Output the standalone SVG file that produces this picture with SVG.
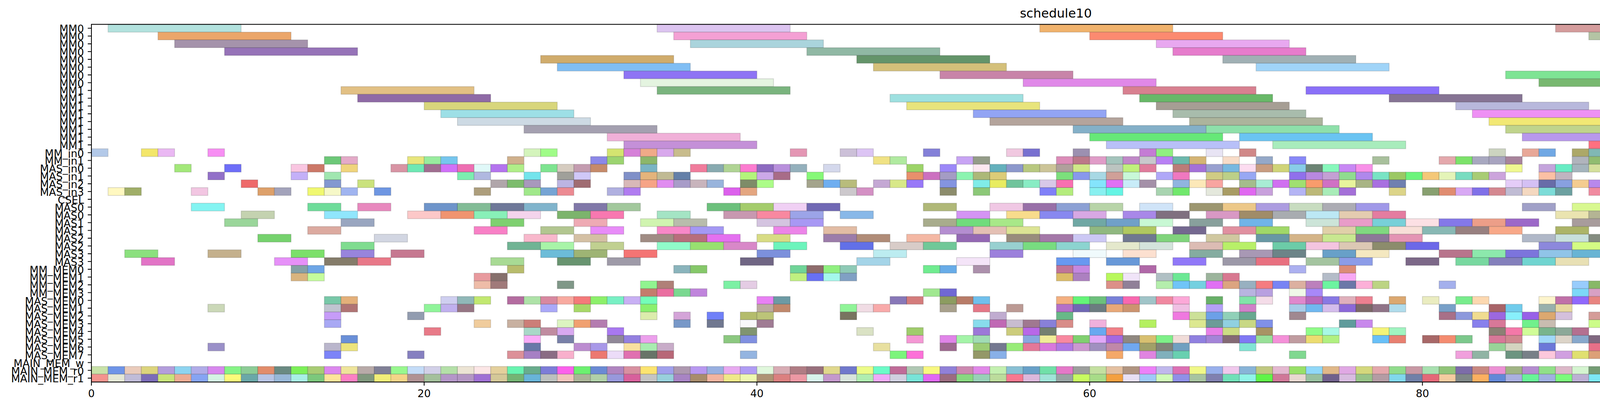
<svg xmlns="http://www.w3.org/2000/svg" width="5407" height="1054" viewBox="0 0 5407 1054">
<style>
text{font-family:"DejaVu Sans","Liberation Sans",sans-serif;fill:#000}
.yl text{font-size:26.67px;text-anchor:end}
.xl text{font-size:26.67px;text-anchor:middle}
.ti{font-size:32px;text-anchor:middle}
.b rect{height:1px;width:1px;fill:currentColor;stroke:#000;stroke-opacity:.14;stroke-width:2px;vector-effect:non-scaling-stroke}
.b .w2 rect{width:2px}
.b .w8 rect{width:8px}
.tk{stroke:#000;stroke-width:2.1;fill:none}
</style>
<rect width="5407" height="1054" fill="#fff"/>
<text class="ti" x="2703" y="45">schedule10</text>
<g id="bars" class="b" transform="translate(234,62.3) scale(42.592,19.89)">
<g id="r0" class="w8"><rect x="1" color="#b2e2de"/><rect x="34" color="#dcc4f0"/><rect x="57" color="#f0b26c"/><rect x="88" color="#d49c9c"/><rect x="101" color="#a0c8f4"/><rect x="112" color="#9cf884"/></g>
<g id="r1" class="w8" transform="translate(0,1)"><rect x="4" color="#eba66a"/><rect x="35" color="#f4a0d4"/><rect x="60" color="#fc8a70"/><rect x="90" color="#b4c4a4"/><rect x="102" color="#88b49c"/></g>
<g id="r2" class="w8" transform="translate(0,2)"><rect x="5" color="#a593ab"/><rect x="36" color="#aad4dc"/><rect x="64" color="#e8a8f0"/><rect x="91" color="#f488ec"/><rect x="103" color="#acc0c4"/></g>
<g id="r3" class="w8" transform="translate(0,3)"><rect x="8" color="#9673b8"/><rect x="43" color="#90b8a4"/><rect x="65" color="#e67ccc"/><rect x="93" color="#a06870"/><rect x="104" color="#eae0a0"/></g>
<g id="r4" class="w8" transform="translate(0,4)"><rect x="27" color="#d0ac6c"/><rect x="46" color="#64946a"/><rect x="68" color="#a0b0b4"/><rect x="94" color="#f0b4e8"/><rect x="105" color="#7cdca0"/></g>
<g id="r5" class="w8" transform="translate(0,5)"><rect x="28" color="#80bef4"/><rect x="47" color="#d4c07a"/><rect x="70" color="#a0d4f8"/><rect x="95" color="#c0e488"/><rect x="107" color="#d8e8e0"/></g>
<g id="r6" class="w8" transform="translate(0,6)"><rect x="32" color="#8e74f4"/><rect x="51" color="#c884a8"/><rect x="85" color="#7ee494"/><rect x="98" color="#f0ac78"/><rect x="109" color="#f0fcb0"/></g>
<g id="r7" class="w8" transform="translate(0,7)"><rect x="33" color="#e4f4e0"/><rect x="56" color="#e088e8"/><rect x="87" color="#78b870"/><rect x="99" color="#d864e0"/><rect x="110" color="#80f4f4"/></g>
<g id="r8" class="w8" transform="translate(0,8)"><rect x="15" color="#e2c084"/><rect x="34" color="#7ab47e"/><rect x="62" color="#d88090"/><rect x="73" color="#8a70f8"/><rect x="91" color="#6cd47c"/><rect x="103" color="#9ca0d4"/></g>
<g id="r9" class="w8" transform="translate(0,9)"><rect x="16" color="#8f6aa6"/><rect x="48" color="#9ee0e0"/><rect x="63" color="#68b868"/><rect x="78" color="#867494"/><rect x="92" color="#a8e878"/><rect x="104" color="#c09478"/></g>
<g id="r10" class="w8" transform="translate(0,10)"><rect x="20" color="#d8d67c"/><rect x="49" color="#e8e47c"/><rect x="64" color="#a69e94"/><rect x="82" color="#b8b8dc"/><rect x="93" color="#bc7cb4"/><rect x="106" color="#b4e88c"/></g>
<g id="r11" class="w8" transform="translate(0,11)"><rect x="21" color="#9ddfe6"/><rect x="53" color="#92a4f4"/><rect x="65" color="#a8bcac"/><rect x="83" color="#ee90f4"/><rect x="94" color="#80a4f8"/><rect x="109" color="#78c070"/></g>
<g id="r12" class="w8" transform="translate(0,12)"><rect x="22" color="#cddae4"/><rect x="54" color="#b4a49c"/><rect x="66" color="#acb49c"/><rect x="84" color="#f2e874"/><rect x="95" color="#6ce4c0"/><rect x="110" color="#886468"/></g>
<g id="r13" class="w8" transform="translate(0,13)"><rect x="26" color="#a4a0b0"/><rect x="59" color="#84b0c8"/><rect x="67" color="#8ee0aa"/><rect x="85" color="#c0d48c"/><rect x="99" color="#78b080"/><rect x="111" color="#88b890"/></g>
<g id="r14" class="w8" transform="translate(0,14)"><rect x="31" color="#f0b0d8"/><rect x="60" color="#66e878"/><rect x="69" color="#6ac4f2"/><rect x="86" color="#b898ec"/><rect x="100" color="#f46ce4"/></g>
<g id="r15" class="w8" transform="translate(0,15)"><rect x="32" color="#c490d8"/><rect x="61" color="#b8c0f8"/><rect x="71" color="#a8ecbc"/><rect x="90" color="#ff7080"/><rect x="101" color="#e8b4e4"/></g>
<g id="r16" transform="translate(0,16)"><rect x="0" color="#b3c9e8"/><rect x="3" color="#f3e66a"/><rect x="4" color="#eab8f3"/><rect x="7" color="#f78ef3"/><rect x="26" color="#d4f4bc"/><rect x="27" color="#a0fc88"/><rect x="31" color="#d4e470"/><rect x="32" color="#d680d8"/><rect x="33" color="#f0aa88"/><rect x="34" color="#d8a8ec"/><rect x="35" color="#c8bc8c"/><rect x="42" color="#e496b4"/><rect x="45" color="#ccc0d8"/><rect x="46" color="#dcc4f4"/><rect x="50" color="#8480d8"/><rect x="55" color="#f0c8e0"/><rect x="56" color="#7870d0"/><rect x="59" color="#9c90b0"/><rect x="63" color="#c47cd4"/><rect x="64" color="#90f080"/><rect x="67" color="#e8e4f4"/><rect x="69" color="#d08888"/><rect x="84" color="#ccd4c0"/><rect x="86" color="#e8a898"/><rect x="87" color="#70a8e4"/><rect x="89" color="#aca868"/><rect x="90" color="#80b8b4"/><rect x="92" color="#a0b0a0"/><rect x="93" color="#8a6880"/><rect x="94" color="#9c8498"/><rect x="97" color="#b4c0dc"/><rect x="98" color="#8c8898"/><rect x="100" color="#78e090"/><rect x="101" color="#78c490"/><rect x="102" color="#e8ec78"/><rect x="103" color="#c48cac"/><rect x="104" color="#78f498"/><rect x="106" color="#b8a080"/><rect x="108" color="#a4c864"/><rect x="109" color="#b0ecf4"/><rect x="111" color="#b880e8"/></g>
<g id="r17" transform="translate(0,17)"><rect x="14" color="#6cc878"/><rect x="15" color="#e4aac8"/><rect x="19" color="#e8e67c"/><rect x="20" color="#98ec9e"/><rect x="21" color="#76c6ee"/><rect x="25" color="#d0b08c"/><rect x="30" color="#8c88e8"/><rect x="31" color="#9cd470"/><rect x="33" color="#8cb66a"/><rect x="47" color="#f0e284"/><rect x="48" color="#b0eaa0"/><rect x="52" color="#c8a4f4"/><rect x="53" color="#949c88"/><rect x="58" color="#dc8cb8"/><rect x="59" color="#bc7888"/><rect x="60" color="#e09cc8"/><rect x="61" color="#a4c4bc"/><rect x="62" color="#c088c8"/><rect x="63" color="#c8c8cc"/><rect x="64" color="#b880f4"/><rect x="65" color="#6cb8ac"/><rect x="66" color="#d4b474"/><rect x="68" color="#f8dcc8"/><rect x="70" color="#94a8c8"/><rect x="72" color="#8888f8"/><rect x="77" color="#a8c09c"/><rect x="81" color="#e4a8ac"/><rect x="82" color="#7ce26a"/><rect x="83" color="#a8a8c0"/><rect x="84" color="#a8a4c0"/><rect x="85" color="#a8849c"/><rect x="89" color="#b0b4bc"/><rect x="90" color="#90bc70"/><rect x="91" color="#88a09c"/><rect x="92" color="#88c4a0"/><rect x="93" color="#64e870"/><rect x="94" color="#9c88f4"/><rect x="98" color="#b0ecc0"/><rect x="99" color="#80e4a8"/><rect x="100" color="#e4e4e0"/><rect x="102" color="#c4d4a8"/><rect x="103" color="#a4ece4"/><rect x="105" color="#a4fcf4"/><rect x="108" color="#dc98dc"/><rect x="109" color="#709090"/><rect x="110" color="#e8c880"/></g>
<g id="r18" transform="translate(0,18)"><rect x="5" color="#a3e87a"/><rect x="8" color="#6e6ef8"/><rect x="12" color="#f9c6e1"/><rect x="13" color="#cc7868"/><rect x="15" color="#f0d47c"/><rect x="18" color="#d894a4"/><rect x="19" color="#6ee8b4"/><rect x="20" color="#a06e90"/><rect x="21" color="#d070f8"/><rect x="22" color="#ee6eb2"/><rect x="23" color="#e0f8f8"/><rect x="24" color="#b474ee"/><rect x="25" color="#b0ee88"/><rect x="27" color="#7ee490"/><rect x="28" color="#d6ccc0"/><rect x="29" color="#c49cb0"/><rect x="30" color="#c68a6a"/><rect x="33" color="#7ab4c4"/><rect x="36" color="#f07c9c"/><rect x="37" color="#88aab0"/><rect x="38" color="#b0d494"/><rect x="39" color="#fc7cd0"/><rect x="40" color="#8c6ac0"/><rect x="41" color="#b890dc"/><rect x="42" color="#94b0bc"/><rect x="44" color="#d4d8ec"/><rect x="49" color="#9cd468"/><rect x="51" color="#9c88f8"/><rect x="53" color="#fce8f0"/><rect x="54" color="#64b0bc"/><rect x="55" color="#8c98cc"/><rect x="56" color="#b8c880"/><rect x="57" color="#ccc498"/><rect x="58" color="#b0a09c"/><rect x="59" color="#d0e888"/><rect x="61" color="#bcc4c0"/><rect x="62" color="#c0f07c"/><rect x="63" color="#e07c9c"/><rect x="65" color="#bc7c78"/><rect x="66" color="#a470d8"/><rect x="67" color="#98a0d0"/><rect x="68" color="#78b8e0"/><rect x="69" color="#fcdcf0"/><rect x="70" color="#c89c80"/><rect x="71" color="#d0d478"/><rect x="72" color="#88cce8"/><rect x="73" color="#6c8474"/><rect x="74" color="#88f8bc"/><rect x="75" color="#c888f4"/><rect x="76" color="#f890e8"/><rect x="85" color="#f0f890"/><rect x="87" color="#c4a4dc"/><rect x="88" color="#68ecc4"/><rect x="89" color="#a4b4bc"/><rect x="90" color="#d4e09c"/><rect x="91" color="#8070a8"/><rect x="92" color="#70fca8"/><rect x="93" color="#a8dc88"/><rect x="94" color="#dce088"/><rect x="95" color="#d89070"/><rect x="96" color="#f8d868"/><rect x="97" color="#b8a0f8"/><rect x="98" color="#6c98d4"/><rect x="99" color="#9060b0"/><rect x="100" color="#cc88f4"/><rect x="101" color="#68f0f0"/><rect x="103" color="#b87084"/><rect x="106" color="#a8fc68"/><rect x="107" color="#7ce4c8"/><rect x="108" color="#c0a09c"/><rect x="112" color="#a0b0c0"/><rect x="113" color="#8c9c78"/><rect x="114" color="#d47890"/><rect x="115" color="#ccb0f4"/><rect x="118" color="#78b878"/></g>
<g id="r19" transform="translate(0,19)"><rect x="7" color="#9270c8"/><rect x="12" color="#c4b0f8"/><rect x="14" color="#a0e6b0"/><rect x="22" color="#7ceeb0"/><rect x="23" color="#b0b8e0"/><rect x="26" color="#74e4ec"/><rect x="28" color="#a0a09a"/><rect x="29" color="#d0c8f8"/><rect x="32" color="#8090c8"/><rect x="33" color="#e4b47c"/><rect x="34" color="#c0ba94"/><rect x="35" color="#6480a8"/><rect x="39" color="#b4f47c"/><rect x="40" color="#cca8e8"/><rect x="41" color="#a86c88"/><rect x="43" color="#86f878"/><rect x="49" color="#e8906c"/><rect x="50" color="#cc70c0"/><rect x="51" color="#a49cc4"/><rect x="52" color="#8cf4b0"/><rect x="53" color="#acb878"/><rect x="54" color="#dccc78"/><rect x="58" color="#7ce07c"/><rect x="59" color="#8898ec"/><rect x="60" color="#a8d8e4"/><rect x="61" color="#d0a098"/><rect x="62" color="#c8f8d8"/><rect x="64" color="#b0a8f8"/><rect x="65" color="#f078c0"/><rect x="67" color="#d0cc84"/><rect x="68" color="#bcd088"/><rect x="69" color="#98a8f4"/><rect x="72" color="#9070ec"/><rect x="73" color="#b888e0"/><rect x="74" color="#c4a0d4"/><rect x="75" color="#90dc90"/><rect x="76" color="#b088ec"/><rect x="77" color="#78e4c4"/><rect x="78" color="#9cc864"/><rect x="79" color="#6cf47c"/><rect x="80" color="#f4c878"/><rect x="81" color="#e4f4b8"/><rect x="82" color="#78dcc0"/><rect x="83" color="#a8cc74"/><rect x="84" color="#cca4dc"/><rect x="87" color="#fcc0a4"/><rect x="88" color="#c0b4c0"/><rect x="91" color="#6478d8"/><rect x="93" color="#e4c4f4"/><rect x="94" color="#98e0a8"/><rect x="95" color="#c088ac"/><rect x="96" color="#a8d084"/><rect x="97" color="#98ac98"/><rect x="100" color="#887898"/><rect x="103" color="#7cb468"/><rect x="104" color="#f8f878"/><rect x="105" color="#a4b8b0"/><rect x="107" color="#a078d4"/><rect x="111" color="#d0ecc8"/><rect x="113" color="#78d0b0"/><rect x="114" color="#70ec68"/></g>
<g id="r20" transform="translate(0,20)"><rect x="9" color="#ee6a6a"/><rect x="14" color="#8398d0"/><rect x="16" color="#cae27c"/><rect x="24" color="#b0a6aa"/><rect x="25" color="#7cbc6c"/><rect x="26" color="#a898bc"/><rect x="28" color="#bcb4e2"/><rect x="29" color="#a06c72"/><rect x="32" color="#d8b8b8"/><rect x="33" color="#f6a486"/><rect x="34" color="#e08cf0"/><rect x="35" color="#a89cc8"/><rect x="36" color="#c8b4bc"/><rect x="37" color="#98b4dc"/><rect x="39" color="#7e8c68"/><rect x="40" color="#acfc88"/><rect x="43" color="#a4a48c"/><rect x="44" color="#6eaef0"/><rect x="45" color="#b8bc7c"/><rect x="47" color="#c4a8d4"/><rect x="48" color="#d8e888"/><rect x="49" color="#9878f8"/><rect x="51" color="#8494e0"/><rect x="53" color="#80ece8"/><rect x="54" color="#e8ec60"/><rect x="55" color="#70c49c"/><rect x="56" color="#88ecc4"/><rect x="57" color="#d8c8e8"/><rect x="58" color="#f870b0"/><rect x="60" color="#84e4fc"/><rect x="61" color="#e070f4"/><rect x="62" color="#c8ecf8"/><rect x="63" color="#a490a8"/><rect x="65" color="#90b4e0"/><rect x="66" color="#fce8b8"/><rect x="67" color="#f8a4a0"/><rect x="69" color="#a4bc8c"/><rect x="70" color="#a8ecd4"/><rect x="71" color="#d070f0"/><rect x="72" color="#a0e070"/><rect x="73" color="#f89c6c"/><rect x="74" color="#d070c4"/><rect x="75" color="#e8f49c"/><rect x="76" color="#a8b484"/><rect x="77" color="#a870e0"/><rect x="78" color="#7080b0"/><rect x="85" color="#e4ccf8"/><rect x="86" color="#d4c0f4"/><rect x="87" color="#686ca8"/><rect x="88" color="#88a0e0"/><rect x="89" color="#f4cc90"/><rect x="90" color="#b888ec"/><rect x="91" color="#8080c8"/><rect x="92" color="#947874"/><rect x="94" color="#98f0d4"/><rect x="95" color="#ec68dc"/><rect x="96" color="#dc78cc"/><rect x="97" color="#8c9478"/><rect x="98" color="#c4a0a4"/><rect x="99" color="#b8a464"/><rect x="100" color="#f0c4b8"/><rect x="101" color="#a8ccec"/><rect x="103" color="#b4ec84"/><rect x="104" color="#7cc8d8"/><rect x="105" color="#a4b0e0"/><rect x="106" color="#889870"/><rect x="107" color="#70c870"/><rect x="108" color="#9098f4"/><rect x="109" color="#64bce8"/><rect x="110" color="#e4acd4"/><rect x="113" color="#a47ca8"/></g>
<g id="r21" transform="translate(0,21)"><rect x="1" color="#fff8c0"/><rect x="2" color="#a0ae68"/><rect x="6" color="#f2c6e2"/><rect x="10" color="#dda06a"/><rect x="11" color="#a3a3bb"/><rect x="13" color="#f0f870"/><rect x="14" color="#f6f8c8"/><rect x="15" color="#a0b4f0"/><rect x="17" color="#6e96e2"/><rect x="23" color="#ad9e7c"/><rect x="26" color="#a0e88a"/><rect x="27" color="#76a4d4"/><rect x="28" color="#ec8a92"/><rect x="31" color="#b0b0e0"/><rect x="32" color="#b07cf0"/><rect x="38" color="#dc60ec"/><rect x="39" color="#e4a680"/><rect x="45" color="#ccc8cc"/><rect x="46" color="#d490c4"/><rect x="51" color="#8c8c6c"/><rect x="53" color="#8cc878"/><rect x="57" color="#8080f8"/><rect x="58" color="#b4ec7c"/><rect x="60" color="#88f0f0"/><rect x="61" color="#64f4e4"/><rect x="64" color="#a8d4b0"/><rect x="65" color="#70e86c"/><rect x="67" color="#e4e8dc"/><rect x="68" color="#a89c64"/><rect x="69" color="#e068f0"/><rect x="70" color="#c8a0dc"/><rect x="72" color="#b4b4f4"/><rect x="73" color="#bcb878"/><rect x="74" color="#a8ecb8"/><rect x="75" color="#a470d8"/><rect x="78" color="#dcd488"/><rect x="80" color="#88a070"/><rect x="81" color="#e08c70"/><rect x="82" color="#d8a8f4"/><rect x="83" color="#8070e8"/><rect x="84" color="#d48890"/><rect x="85" color="#c0bcd4"/><rect x="86" color="#f4d8c0"/><rect x="87" color="#7cdcd8"/><rect x="88" color="#6ca0a0"/><rect x="90" color="#f08aa0"/><rect x="92" color="#9cb460"/><rect x="97" color="#98cc84"/><rect x="98" color="#e478ec"/><rect x="99" color="#ccd464"/><rect x="101" color="#c8fcc0"/><rect x="102" color="#d49470"/><rect x="105" color="#dcc4c4"/><rect x="106" color="#b0a8e8"/><rect x="107" color="#e4fcb0"/><rect x="108" color="#78f088"/><rect x="110" color="#f0e8f0"/><rect x="111" color="#808090"/><rect x="112" color="#b8dcf8"/><rect x="117" color="#a8cca8"/></g>
<g id="r23" class="w2" transform="translate(0,23)"><rect x="6" color="#84f4f2"/><rect x="13" color="#6edc9a"/><rect x="16" color="#e888be"/><rect x="20" color="#6e94ca"/><rect x="22" color="#82bc96"/><rect x="24" color="#6e7898"/><rect x="26" color="#80b4cc"/><rect x="29" color="#8078a8"/><rect x="31" color="#a2c89c"/><rect x="37" color="#6cc07c"/><rect x="39" color="#a4cc6c"/><rect x="41" color="#f0d0f4"/><rect x="43" color="#7068b4"/><rect x="50" color="#b0b878"/><rect x="54" color="#f0c8e4"/><rect x="56" color="#9870a8"/><rect x="58" color="#8ca0d4"/><rect x="60" color="#b8d4a8"/><rect x="63" color="#d0e4f8"/><rect x="66" color="#9c9670"/><rect x="68" color="#ecc888"/><rect x="70" color="#ac9ce0"/><rect x="72" color="#c8dcc0"/><rect x="74" color="#acacb4"/><rect x="76" color="#a098e8"/><rect x="86" color="#a0a0c8"/><rect x="89" color="#d8f890"/><rect x="91" color="#f4a0a8"/><rect x="93" color="#a070d0"/><rect x="95" color="#d080e4"/><rect x="97" color="#b080dc"/><rect x="99" color="#d49cb0"/><rect x="101" color="#d8c8c8"/><rect x="104" color="#80d4d4"/><rect x="108" color="#a48870"/><rect x="113" color="#a080a0"/><rect x="115" color="#6890b8"/><rect x="119" color="#98d4b0"/></g>
<g id="r24" class="w2" transform="translate(0,24)"><rect x="9" color="#c4d2b0"/><rect x="14" color="#90e6fc"/><rect x="19" color="#fcc8c8"/><rect x="21" color="#f09470"/><rect x="23" color="#88f0b8"/><rect x="25" color="#f4d4ec"/><rect x="28" color="#7cb46c"/><rect x="30" color="#f878b0"/><rect x="34" color="#a4e4c4"/><rect x="38" color="#c898b0"/><rect x="40" color="#f888a0"/><rect x="42" color="#9ca4e8"/><rect x="45" color="#88b8e8"/><rect x="52" color="#d494f4"/><rect x="55" color="#f8dc8c"/><rect x="57" color="#8888f0"/><rect x="59" color="#d8a8e4"/><rect x="62" color="#a888e8"/><rect x="64" color="#807080"/><rect x="67" color="#d898c4"/><rect x="69" color="#a08c68"/><rect x="71" color="#a8acb0"/><rect x="73" color="#bce8f4"/><rect x="75" color="#e4ccb0"/><rect x="77" color="#e47ca0"/><rect x="88" color="#eae4b0"/><rect x="90" color="#b4b494"/><rect x="92" color="#74b4dc"/><rect x="94" color="#b4c4dc"/><rect x="96" color="#6ce4d4"/><rect x="98" color="#e89080"/><rect x="100" color="#d0c07c"/><rect x="102" color="#b4ac90"/><rect x="107" color="#70b4b4"/><rect x="109" color="#7088c4"/><rect x="114" color="#f07898"/><rect x="116" color="#c4a0c4"/></g>
<g id="r25" class="w2" transform="translate(0,25)"><rect x="8" color="#9ad69a"/><rect x="15" color="#99a6c0"/><rect x="24" color="#7ed070"/><rect x="29" color="#eeaab4"/><rect x="33" color="#d0f4b0"/><rect x="35" color="#b8bcac"/><rect x="40" color="#d4c4e0"/><rect x="42" color="#a898f4"/><rect x="50" color="#a8ac8c"/><rect x="52" color="#70dc7c"/><rect x="54" color="#a8e888"/><rect x="59" color="#70a8a4"/><rect x="61" color="#70a0c8"/><rect x="63" color="#c8f8d4"/><rect x="66" color="#88a09c"/><rect x="69" color="#70b4e8"/><rect x="73" color="#cce4d8"/><rect x="75" color="#e89cc8"/><rect x="77" color="#78d0d8"/><rect x="79" color="#fce0e4"/><rect x="81" color="#8478e8"/><rect x="83" color="#ec9e88"/><rect x="85" color="#9c68c8"/><rect x="89" color="#a89c9c"/><rect x="94" color="#98a484"/><rect x="96" color="#c0c0ec"/><rect x="98" color="#7c84ec"/><rect x="104" color="#d080ec"/><rect x="106" color="#70d4f8"/><rect x="112" color="#dcb8d8"/><rect x="115" color="#80f098"/></g>
<g id="r26" class="w2" transform="translate(0,26)"><rect x="13" color="#dcaaa0"/><rect x="23" color="#f880c6"/><rect x="27" color="#b2c690"/><rect x="30" color="#e88cf8"/><rect x="34" color="#f888c8"/><rect x="36" color="#a498f4"/><rect x="41" color="#ec84e8"/><rect x="44" color="#e2bca4"/><rect x="51" color="#b48ed0"/><rect x="53" color="#e4c0b4"/><rect x="55" color="#dce494"/><rect x="60" color="#90b880"/><rect x="62" color="#b0c860"/><rect x="65" color="#746890"/><rect x="68" color="#e090a0"/><rect x="70" color="#a0d868"/><rect x="74" color="#e0d0a8"/><rect x="76" color="#80d880"/><rect x="78" color="#f8e0d8"/><rect x="80" color="#88b8b4"/><rect x="82" color="#988080"/><rect x="84" color="#f8a888"/><rect x="88" color="#acb468"/><rect x="92" color="#f89080"/><rect x="95" color="#cc78e8"/><rect x="97" color="#e0f4e8"/><rect x="101" color="#c07474"/><rect x="105" color="#7ca0d8"/><rect x="108" color="#f488a4"/><rect x="114" color="#b880d4"/></g>
<g id="r27" class="w2" transform="translate(0,27)"><rect x="10" color="#76d26e"/><rect x="17" color="#d2d6e2"/><rect x="26" color="#f8b8cc"/><rect x="29" color="#d4c0a4"/><rect x="33" color="#a08c84"/><rect x="35" color="#b86e7c"/><rect x="37" color="#e470f0"/><rect x="40" color="#d8dc84"/><rect x="44" color="#9c7caa"/><rect x="46" color="#b08c78"/><rect x="49" color="#f4b8a4"/><rect x="52" color="#9468b4"/><rect x="55" color="#988c7c"/><rect x="57" color="#a478a8"/><rect x="59" color="#ccc8f4"/><rect x="62" color="#707890"/><rect x="64" color="#80d47c"/><rect x="67" color="#d0c8a0"/><rect x="70" color="#6898a4"/><rect x="72" color="#d4b488"/><rect x="74" color="#c8e890"/><rect x="76" color="#8c7898"/><rect x="78" color="#e494b4"/><rect x="86" color="#b0b8c8"/><rect x="88" color="#c8e0dc"/><rect x="90" color="#848c80"/><rect x="92" color="#88c49c"/><rect x="95" color="#a0cc80"/><rect x="97" color="#bc88ec"/><rect x="99" color="#70c8b0"/><rect x="101" color="#64dc9c"/><rect x="104" color="#dc9cac"/><rect x="106" color="#7cf8d4"/><rect x="108" color="#c47c74"/><rect x="110" color="#d080f0"/><rect x="114" color="#d0e89c"/></g>
<g id="r28" class="w2" transform="translate(0,28)"><rect x="15" color="#80dc90"/><rect x="25" color="#70b494"/><rect x="27" color="#a8f4a8"/><rect x="30" color="#c0d090"/><rect x="34" color="#90fcca"/><rect x="36" color="#98e070"/><rect x="38" color="#d888c8"/><rect x="41" color="#6cf4bc"/><rect x="45" color="#6270e8"/><rect x="48" color="#d8ccc8"/><rect x="50" color="#70c898"/><rect x="54" color="#98d0d0"/><rect x="56" color="#78dc80"/><rect x="58" color="#8cd4d0"/><rect x="61" color="#e4e8cc"/><rect x="63" color="#d4e4dc"/><rect x="66" color="#dcbcb4"/><rect x="68" color="#b8f068"/><rect x="71" color="#6ccca8"/><rect x="73" color="#f4c4e0"/><rect x="75" color="#dcc8b4"/><rect x="77" color="#8c8c6c"/><rect x="79" color="#6c68e8"/><rect x="87" color="#8c88dc"/><rect x="89" color="#d4fc84"/><rect x="91" color="#70bca8"/><rect x="93" color="#c8fce0"/><rect x="96" color="#7088b0"/><rect x="98" color="#b07898"/><rect x="100" color="#a09c6c"/><rect x="102" color="#eca870"/><rect x="105" color="#e0c8e0"/><rect x="107" color="#64e0c8"/><rect x="109" color="#e4c858"/><rect x="111" color="#e8ecec"/></g>
<g id="r29" class="w2" transform="translate(0,29)"><rect x="2" color="#8be07e"/><rect x="7" color="#c4b08c"/><rect x="12" color="#7ce06a"/><rect x="15" color="#9884dc"/><rect x="18" color="#c67890"/><rect x="27" color="#6cbcd8"/><rect x="29" color="#9eb474"/><rect x="32" color="#f47474"/><rect x="40" color="#7c90dc"/><rect x="47" color="#bcecf0"/><rect x="54" color="#9c80dc"/><rect x="59" color="#f0fafc"/><rect x="62" color="#fce0d0"/><rect x="66" color="#84aca0"/><rect x="69" color="#a898b4"/><rect x="71" color="#6c8488"/><rect x="74" color="#68a0c8"/><rect x="76" color="#f4e8c0"/><rect x="81" color="#b8748c"/><rect x="83" color="#8ce8ac"/><rect x="85" color="#7c74dc"/><rect x="87" color="#90c4e8"/><rect x="89" color="#68b4d4"/><rect x="93" color="#ec7478"/><rect x="99" color="#b0e090"/><rect x="102" color="#f080f8"/><rect x="106" color="#f0c4e0"/><rect x="108" color="#a47c80"/><rect x="111" color="#a09c78"/><rect x="113" color="#7c7a70"/></g>
<g id="r30" class="w2" transform="translate(0,30)"><rect x="3" color="#e274c6"/><rect x="11" color="#e690f8"/><rect x="14" color="#857c6a"/><rect x="16" color="#e87888"/><rect x="24" color="#a8da94"/><rect x="28" color="#689470"/><rect x="31" color="#9e9aa8"/><rect x="39" color="#706684"/><rect x="46" color="#a4d4e8"/><rect x="52" color="#f4e4f8"/><rect x="58" color="#6898f0"/><rect x="61" color="#6898d8"/><rect x="65" color="#9078f8"/><rect x="68" color="#9c98a8"/><rect x="70" color="#e87080"/><rect x="73" color="#a4c4a0"/><rect x="75" color="#8c9ce8"/><rect x="79" color="#7c6888"/><rect x="82" color="#78d8a0"/><rect x="84" color="#8480bc"/><rect x="86" color="#70d4d0"/><rect x="88" color="#e8e0b4"/><rect x="91" color="#98e48c"/><rect x="98" color="#cc98f8"/><rect x="100" color="#946c80"/><rect x="103" color="#90c0e8"/><rect x="107" color="#78c868"/><rect x="109" color="#90f888"/><rect x="112" color="#bcdc98"/><rect x="118" color="#78a890"/></g>
<g id="r31" transform="translate(0,31)"><rect x="12" color="#85a0a6"/><rect x="13" color="#6ea6e6"/><rect x="25" color="#b8bc6c"/><rect x="35" color="#8ab4bc"/><rect x="36" color="#86c86a"/><rect x="42" color="#70d498"/><rect x="43" color="#8e6c6c"/><rect x="44" color="#90f080"/><rect x="45" color="#8ecab6"/><rect x="50" color="#70ec90"/><rect x="51" color="#68ace8"/><rect x="53" color="#ac90ac"/><rect x="58" color="#c07498"/><rect x="59" color="#c488e0"/><rect x="63" color="#b068a8"/><rect x="72" color="#acb0f0"/><rect x="75" color="#dc8c78"/><rect x="92" color="#f080e0"/><rect x="100" color="#e4dca0"/><rect x="103" color="#dce0e4"/><rect x="105" color="#d48c78"/><rect x="106" color="#b8a0a0"/><rect x="107" color="#90bcbc"/><rect x="108" color="#9cd4c4"/><rect x="109" color="#c8ecc4"/><rect x="110" color="#fcc060"/><rect x="111" color="#98acb4"/><rect x="112" color="#9070f8"/><rect x="113" color="#8cc880"/><rect x="114" color="#f4b4c0"/><rect x="115" color="#68b068"/></g>
<g id="r32" transform="translate(0,32)"><rect x="12" color="#d9b47e"/><rect x="13" color="#c4fc9c"/><rect x="23" color="#e89a9e"/><rect x="24" color="#86706c"/><rect x="42" color="#c0f080"/><rect x="43" color="#6870f4"/><rect x="44" color="#a4f8ec"/><rect x="45" color="#80a0c4"/><rect x="58" color="#dcbc68"/><rect x="59" color="#ac80c0"/><rect x="61" color="#b8f85c"/><rect x="62" color="#f0e4f8"/><rect x="64" color="#b0c0c4"/><rect x="65" color="#6ce894"/><rect x="67" color="#9cb49c"/><rect x="68" color="#d87890"/><rect x="74" color="#b4bcc8"/><rect x="75" color="#f8a8f4"/><rect x="99" color="#fcd070"/><rect x="104" color="#b8e4f0"/><rect x="105" color="#6cb4a8"/><rect x="106" color="#fcb4e8"/><rect x="108" color="#d0ecec"/><rect x="109" color="#fcd078"/><rect x="110" color="#a89c9c"/><rect x="111" color="#f878f0"/><rect x="117" color="#f4a0a8"/><rect x="118" color="#70a0b4"/></g>
<g id="r33" transform="translate(0,33)"><rect x="23" color="#eebca8"/><rect x="24" color="#a07a7a"/><rect x="28" color="#809888"/><rect x="33" color="#90f490"/><rect x="34" color="#b08078"/><rect x="38" color="#7cf0a4"/><rect x="39" color="#e4cce4"/><rect x="61" color="#dc9088"/><rect x="62" color="#908098"/><rect x="64" color="#b4eeac"/><rect x="65" color="#70c4f8"/><rect x="66" color="#74d0e0"/><rect x="67" color="#e070f4"/><rect x="68" color="#dca480"/><rect x="69" color="#98b0c0"/><rect x="70" color="#f47c80"/><rect x="71" color="#7884f4"/><rect x="72" color="#dcb0a0"/><rect x="73" color="#bc80bc"/><rect x="74" color="#6cf4a0"/><rect x="75" color="#6c78a8"/><rect x="76" color="#fcb0d8"/><rect x="77" color="#bcd484"/><rect x="81" color="#a4b0ec"/><rect x="89" color="#98ccfc"/><rect x="90" color="#88b868"/><rect x="93" color="#88f8f4"/><rect x="94" color="#7ca0e8"/><rect x="97" color="#a09c84"/><rect x="98" color="#e098d4"/><rect x="99" color="#80f8a8"/><rect x="100" color="#b0a0e4"/><rect x="101" color="#e86898"/><rect x="102" color="#dc8088"/><rect x="103" color="#9c78e4"/><rect x="104" color="#6c8cf8"/><rect x="106" color="#e46c9c"/><rect x="107" color="#80a868"/><rect x="108" color="#8cf4a8"/><rect x="111" color="#7878c8"/><rect x="113" color="#8494c8"/><rect x="114" color="#78a0e8"/><rect x="117" color="#68b0b8"/><rect x="118" color="#f08ca0"/></g>
<g id="r34" transform="translate(0,34)"><rect x="33" color="#c47c6c"/><rect x="34" color="#ea6ea0"/><rect x="35" color="#7ad890"/><rect x="36" color="#c084dc"/><rect x="50" color="#a0e890"/><rect x="51" color="#7068d4"/><rect x="69" color="#b8b4e0"/><rect x="70" color="#b8a0e0"/><rect x="72" color="#f0f8e8"/><rect x="73" color="#a888f8"/><rect x="89" color="#7cd8f8"/><rect x="90" color="#d8a0c4"/><rect x="93" color="#88e868"/><rect x="94" color="#686c80"/><rect x="97" color="#f068c4"/><rect x="98" color="#a884c0"/><rect x="100" color="#a8b090"/><rect x="101" color="#6cdce8"/><rect x="102" color="#9c90b8"/><rect x="103" color="#ecece0"/><rect x="107" color="#a0d8e0"/><rect x="108" color="#6ce4a0"/><rect x="111" color="#98a088"/><rect x="112" color="#6c98b0"/><rect x="113" color="#f46c90"/><rect x="114" color="#c4a4b0"/></g>
<g id="r35" transform="translate(0,35)"><rect x="14" color="#78c8a8"/><rect x="15" color="#e4b07a"/><rect x="21" color="#cfcff0"/><rect x="22" color="#90b8b8"/><rect x="23" color="#c2e870"/><rect x="25" color="#b46ca0"/><rect x="26" color="#aee2a8"/><rect x="27" color="#d888a0"/><rect x="28" color="#f8aaa0"/><rect x="29" color="#f47a7a"/><rect x="30" color="#8cf06a"/><rect x="31" color="#78f0c4"/><rect x="32" color="#c8b0f4"/><rect x="33" color="#74feb8"/><rect x="40" color="#e880f4"/><rect x="41" color="#6c9aa4"/><rect x="48" color="#8878b8"/><rect x="49" color="#d47c7c"/><rect x="51" color="#8c9c60"/><rect x="52" color="#b87c68"/><rect x="53" color="#70c0ec"/><rect x="58" color="#f4b080"/><rect x="59" color="#64f478"/><rect x="60" color="#6cc07c"/><rect x="61" color="#7880d8"/><rect x="62" color="#f868b0"/><rect x="63" color="#a0c4c8"/><rect x="64" color="#f088a0"/><rect x="65" color="#fca8d8"/><rect x="67" color="#68b068"/><rect x="69" color="#80e4a8"/><rect x="70" color="#f4dce8"/><rect x="72" color="#e088cc"/><rect x="73" color="#b868bc"/><rect x="74" color="#8878e4"/><rect x="75" color="#e0b0bc"/><rect x="76" color="#ec8090"/><rect x="78" color="#dca870"/><rect x="80" color="#eaecc0"/><rect x="82" color="#78ec8c"/><rect x="83" color="#fcd8b0"/><rect x="87" color="#fcf4cc"/><rect x="88" color="#c070a8"/><rect x="89" color="#9068fc"/><rect x="90" color="#e88480"/><rect x="91" color="#70fcfc"/><rect x="93" color="#70a0dc"/><rect x="94" color="#8c7c80"/><rect x="97" color="#f0a878"/><rect x="100" color="#b078a8"/><rect x="103" color="#68d870"/><rect x="105" color="#9c6cac"/><rect x="106" color="#88e0a8"/><rect x="107" color="#ccd48c"/><rect x="108" color="#fca870"/><rect x="109" color="#94a4bc"/><rect x="110" color="#a8e870"/><rect x="113" color="#f08ce4"/></g>
<g id="r36" transform="translate(0,36)"><rect x="7" color="#cbd8b8"/><rect x="14" color="#c0c4d0"/><rect x="15" color="#b07474"/><rect x="20" color="#90f49a"/><rect x="21" color="#c0b0ee"/><rect x="22" color="#967684"/><rect x="27" color="#aaa8f8"/><rect x="29" color="#a8d868"/><rect x="33" color="#8af06e"/><rect x="40" color="#bcaca0"/><rect x="41" color="#c0886c"/><rect x="45" color="#90f498"/><rect x="46" color="#f0dce4"/><rect x="47" color="#f8aaaa"/><rect x="51" color="#a8a08c"/><rect x="53" color="#e47888"/><rect x="55" color="#bc9a94"/><rect x="58" color="#b470c8"/><rect x="59" color="#7068b4"/><rect x="60" color="#6c7c80"/><rect x="61" color="#e8a878"/><rect x="62" color="#cc9470"/><rect x="65" color="#f0c0e4"/><rect x="67" color="#b4a0f8"/><rect x="69" color="#d080c8"/><rect x="72" color="#a8cce8"/><rect x="73" color="#70b8f0"/><rect x="74" color="#d4bcec"/><rect x="75" color="#8c68d8"/><rect x="76" color="#7c6868"/><rect x="77" color="#907488"/><rect x="78" color="#b0dcec"/><rect x="81" color="#78a0c8"/><rect x="84" color="#a86468"/><rect x="85" color="#70ccec"/><rect x="87" color="#98b0ac"/><rect x="88" color="#e8d8a0"/><rect x="91" color="#9090f8"/><rect x="92" color="#f068e8"/><rect x="94" color="#98d8a0"/><rect x="96" color="#c880f4"/><rect x="97" color="#c8b878"/><rect x="98" color="#b898cc"/><rect x="99" color="#f0c0a0"/><rect x="100" color="#e0c490"/><rect x="101" color="#68c084"/><rect x="102" color="#c0c4ac"/><rect x="103" color="#8470e4"/><rect x="104" color="#a0d874"/><rect x="105" color="#c088ac"/><rect x="106" color="#ecb07c"/><rect x="107" color="#bca07c"/><rect x="108" color="#98acc4"/><rect x="109" color="#e8e0b0"/><rect x="110" color="#b0d868"/><rect x="111" color="#c8d870"/><rect x="112" color="#dcdcd4"/><rect x="113" color="#6c8078"/><rect x="114" color="#8ce0e0"/></g>
<g id="r37" transform="translate(0,37)"><rect x="14" color="#c69cf8"/><rect x="19" color="#929cb0"/><rect x="33" color="#dcecac"/><rect x="35" color="#d4a4d8"/><rect x="37" color="#7080f8"/><rect x="39" color="#b4bc6c"/><rect x="40" color="#bcc478"/><rect x="45" color="#787460"/><rect x="54" color="#c0acd0"/><rect x="58" color="#68b888"/><rect x="65" color="#f078e0"/><rect x="66" color="#cce098"/><rect x="67" color="#6ca0e8"/><rect x="68" color="#90d0b8"/><rect x="69" color="#68a890"/><rect x="72" color="#a08890"/><rect x="81" color="#a87088"/><rect x="82" color="#8c98dc"/><rect x="83" color="#f0dc90"/><rect x="84" color="#9c68e0"/><rect x="85" color="#88f0fc"/><rect x="86" color="#9860e8"/><rect x="87" color="#dca870"/><rect x="88" color="#d4c0dc"/><rect x="90" color="#d49c98"/><rect x="91" color="#80dcb4"/><rect x="92" color="#dc8ce4"/><rect x="96" color="#88d0b0"/><rect x="97" color="#f0e4f8"/><rect x="98" color="#80d468"/><rect x="99" color="#6c9cc8"/><rect x="102" color="#f8f0c0"/><rect x="103" color="#f0fc98"/><rect x="109" color="#dc98e8"/><rect x="111" color="#70ccfc"/></g>
<g id="r38" transform="translate(0,38)"><rect x="14" color="#a8a8f4"/><rect x="23" color="#f0cc9c"/><rect x="25" color="#c8b0a0"/><rect x="26" color="#cc7e78"/><rect x="28" color="#dcf4c0"/><rect x="29" color="#f0a070"/><rect x="30" color="#b47cb0"/><rect x="35" color="#7898c8"/><rect x="37" color="#707890"/><rect x="39" color="#f8f8fa"/><rect x="40" color="#a07c94"/><rect x="53" color="#88dcec"/><rect x="54" color="#c068b4"/><rect x="55" color="#c8bcd0"/><rect x="56" color="#a07890"/><rect x="57" color="#8880d8"/><rect x="58" color="#d88c88"/><rect x="60" color="#f0b0dc"/><rect x="63" color="#b4f060"/><rect x="66" color="#dce890"/><rect x="67" color="#6c9c98"/><rect x="68" color="#90d0e0"/><rect x="69" color="#c8d884"/><rect x="70" color="#8090e8"/><rect x="75" color="#609c9c"/><rect x="76" color="#c888ec"/><rect x="83" color="#8880ec"/><rect x="84" color="#d87898"/><rect x="86" color="#70f08c"/><rect x="87" color="#c8bcb0"/><rect x="90" color="#ccfc88"/><rect x="92" color="#80fcc8"/><rect x="93" color="#c890c4"/><rect x="95" color="#7470d4"/><rect x="96" color="#7080b0"/><rect x="97" color="#a898a4"/><rect x="98" color="#f0e070"/><rect x="99" color="#ec9c70"/><rect x="100" color="#a0d8e4"/><rect x="103" color="#e0d0b8"/><rect x="105" color="#b0d0e4"/><rect x="107" color="#80f8c8"/><rect x="109" color="#e4a8f8"/></g>
<g id="r39" transform="translate(0,39)"><rect x="20" color="#e87a88"/><rect x="26" color="#a8d8c8"/><rect x="27" color="#c08ca0"/><rect x="28" color="#d8a8f0"/><rect x="31" color="#a878f0"/><rect x="39" color="#809470"/><rect x="46" color="#dae2c4"/><rect x="49" color="#a0cc6c"/><rect x="53" color="#9c78d8"/><rect x="55" color="#cccc7c"/><rect x="56" color="#b868e8"/><rect x="57" color="#748070"/><rect x="60" color="#68a8f0"/><rect x="61" color="#f08088"/><rect x="67" color="#e880e8"/><rect x="68" color="#ccdc84"/><rect x="70" color="#a89464"/><rect x="73" color="#90fc88"/><rect x="74" color="#a8f8e4"/><rect x="77" color="#f4f478"/><rect x="78" color="#a0f4c0"/><rect x="84" color="#8c8074"/><rect x="85" color="#f478a8"/><rect x="86" color="#d0fc98"/><rect x="87" color="#78b48c"/><rect x="88" color="#8ca898"/><rect x="89" color="#b47090"/><rect x="91" color="#a8d08c"/><rect x="92" color="#b098f8"/><rect x="93" color="#70a088"/><rect x="94" color="#d4c48c"/><rect x="95" color="#68e4c4"/><rect x="96" color="#8c88e8"/><rect x="97" color="#a8e870"/><rect x="98" color="#d8f8c4"/><rect x="99" color="#f0b894"/><rect x="100" color="#e48cc4"/><rect x="101" color="#a8a8cc"/><rect x="102" color="#b0ccf0"/><rect x="103" color="#80acf8"/><rect x="104" color="#dc7c84"/><rect x="105" color="#e0bcc4"/><rect x="106" color="#708c9c"/><rect x="107" color="#ecacb4"/><rect x="108" color="#90acec"/><rect x="112" color="#9070dc"/></g>
<g id="r40" transform="translate(0,40)"><rect x="15" color="#6a90d8"/><rect x="26" color="#f8acf8"/><rect x="28" color="#7880a8"/><rect x="31" color="#908898"/><rect x="32" color="#9480e0"/><rect x="33" color="#eca0ec"/><rect x="38" color="#8cc880"/><rect x="39" color="#8090e0"/><rect x="49" color="#f498d4"/><rect x="51" color="#e084e8"/><rect x="52" color="#a4f4a8"/><rect x="53" color="#a0dcb4"/><rect x="56" color="#88a8e0"/><rect x="57" color="#f0ec98"/><rect x="58" color="#f888a0"/><rect x="59" color="#80d070"/><rect x="60" color="#e0a8f8"/><rect x="61" color="#a468e0"/><rect x="62" color="#908880"/><rect x="63" color="#d8c070"/><rect x="64" color="#7ef088"/><rect x="65" color="#f0dcd8"/><rect x="66" color="#9080e0"/><rect x="67" color="#a484d8"/><rect x="68" color="#846a74"/><rect x="69" color="#8078f4"/><rect x="70" color="#98e098"/><rect x="71" color="#f490d8"/><rect x="72" color="#c09ca0"/><rect x="73" color="#ecdc70"/><rect x="74" color="#b0f080"/><rect x="77" color="#68c0f8"/><rect x="78" color="#e88070"/><rect x="80" color="#a86868"/><rect x="81" color="#f48c70"/><rect x="82" color="#7cc88c"/><rect x="84" color="#d87898"/><rect x="85" color="#d08890"/><rect x="87" color="#a0d8f8"/><rect x="88" color="#dcd4c8"/><rect x="89" color="#88a8cc"/><rect x="90" color="#806880"/><rect x="91" color="#b470dc"/><rect x="92" color="#687c68"/><rect x="93" color="#f8e4dc"/><rect x="94" color="#a09cd0"/><rect x="95" color="#c87ca8"/><rect x="96" color="#78a8d4"/><rect x="97" color="#e0e868"/><rect x="98" color="#bcacac"/><rect x="100" color="#acf4e8"/><rect x="101" color="#d4ccb4"/><rect x="102" color="#d4b0d4"/><rect x="103" color="#7880e4"/><rect x="104" color="#f460ac"/><rect x="105" color="#90ecd0"/><rect x="106" color="#e06868"/><rect x="107" color="#e4f4f4"/><rect x="108" color="#807898"/><rect x="113" color="#ccc0b4"/></g>
<g id="r41" transform="translate(0,41)"><rect x="7" color="#9a90c8"/><rect x="14" color="#bab6cc"/><rect x="15" color="#ece47c"/><rect x="26" color="#6878a8"/><rect x="29" color="#bc8cd0"/><rect x="30" color="#a898e8"/><rect x="32" color="#f8e0a0"/><rect x="33" color="#a8ecb0"/><rect x="34" color="#c8acc8"/><rect x="47" color="#e8e0a0"/><rect x="51" color="#9e6890"/><rect x="53" color="#9ccc74"/><rect x="54" color="#747890"/><rect x="55" color="#98ec78"/><rect x="56" color="#e47898"/><rect x="57" color="#d878dc"/><rect x="58" color="#b078e4"/><rect x="59" color="#cc98d0"/><rect x="60" color="#a090c0"/><rect x="61" color="#c088a8"/><rect x="62" color="#70a8f0"/><rect x="63" color="#a0a068"/><rect x="64" color="#808478"/><rect x="65" color="#70a0c0"/><rect x="69" color="#80e4d4"/><rect x="84" color="#98d498"/><rect x="85" color="#d4d4c0"/><rect x="87" color="#6c78d8"/><rect x="90" color="#e87088"/><rect x="92" color="#88d0a8"/><rect x="94" color="#a8fcec"/><rect x="95" color="#dce8a8"/><rect x="98" color="#f088d4"/><rect x="101" color="#9cbcdc"/><rect x="104" color="#6cb488"/><rect x="105" color="#80f0f0"/><rect x="108" color="#80e080"/><rect x="110" color="#7094b4"/></g>
<g id="r42" transform="translate(0,42)"><rect x="14" color="#7c84f8"/><rect x="19" color="#8680c0"/><rect x="25" color="#dc9098"/><rect x="26" color="#a680c4"/><rect x="27" color="#8a6c84"/><rect x="28" color="#f8b0cc"/><rect x="30" color="#ec7870"/><rect x="31" color="#ecdcf8"/><rect x="32" color="#e070b0"/><rect x="33" color="#687468"/><rect x="34" color="#b86878"/><rect x="39" color="#94b4e0"/><rect x="48" color="#7cf47c"/><rect x="49" color="#fc70d8"/><rect x="53" color="#949868"/><rect x="54" color="#88b0e8"/><rect x="61" color="#f4a868"/><rect x="63" color="#e084e0"/><rect x="64" color="#80b0bc"/><rect x="65" color="#68d0b0"/><rect x="72" color="#80d890"/><rect x="82" color="#f0a0dc"/><rect x="83" color="#90b4a4"/><rect x="85" color="#6c9480"/><rect x="86" color="#788088"/><rect x="87" color="#fcc8dc"/><rect x="88" color="#d0a0e0"/><rect x="89" color="#e0e070"/><rect x="90" color="#dca078"/><rect x="91" color="#d08468"/><rect x="92" color="#e4b8c8"/><rect x="94" color="#e088e8"/><rect x="97" color="#8c78ec"/><rect x="98" color="#78a8d8"/><rect x="99" color="#70e0c8"/><rect x="100" color="#cce0f8"/><rect x="101" color="#b0c8b0"/><rect x="103" color="#68e4a0"/><rect x="106" color="#a480dc"/><rect x="108" color="#f8ecc8"/><rect x="110" color="#f8a088"/><rect x="115" color="#98d0e4"/></g>
<g id="r44" transform="translate(0,44)"><rect x="0" color="#c8e2a8"/><rect x="1" color="#6e94e8"/><rect x="2" color="#eacbbb"/><rect x="3" color="#dcd47c"/><rect x="4" color="#b39ddc"/><rect x="5" color="#8dd4f0"/><rect x="6" color="#b0ace8"/><rect x="7" color="#d888ee"/><rect x="8" color="#86f486"/><rect x="9" color="#8ccc96"/><rect x="10" color="#e28c6a"/><rect x="11" color="#6a8a82"/><rect x="12" color="#7cf058"/><rect x="13" color="#a8cc74"/><rect x="14" color="#dc88ee"/><rect x="15" color="#eee49a"/><rect x="16" color="#b8aaa8"/><rect x="17" color="#808096"/><rect x="18" color="#98f88e"/><rect x="19" color="#c4dcf8"/><rect x="20" color="#d2d0e8"/><rect x="21" color="#b4e0a8"/><rect x="22" color="#ece4d4"/><rect x="23" color="#fce6e6"/><rect x="24" color="#e4d09c"/><rect x="25" color="#68f4b0"/><rect x="26" color="#68ac8c"/><rect x="27" color="#7c7cd8"/><rect x="28" color="#fc60ec"/><rect x="29" color="#6cf070"/><rect x="30" color="#6a8ad4"/><rect x="31" color="#b084c0"/><rect x="32" color="#d890a0"/><rect x="33" color="#fce470"/><rect x="34" color="#a0a0ec"/><rect x="35" color="#ae98b0"/><rect x="36" color="#b898f0"/><rect x="37" color="#98b0e0"/><rect x="38" color="#e8aaf0"/><rect x="39" color="#b09cf4"/><rect x="40" color="#e0f8dc"/><rect x="41" color="#d8acb4"/><rect x="42" color="#b07c84"/><rect x="43" color="#98707c"/><rect x="44" color="#e0d88c"/><rect x="45" color="#7078cc"/><rect x="46" color="#ecfc88"/><rect x="47" color="#6cfcc8"/><rect x="48" color="#c06c98"/><rect x="49" color="#b0c8b4"/><rect x="50" color="#f8f880"/><rect x="51" color="#9080d8"/><rect x="52" color="#cc88b0"/><rect x="53" color="#e088e8"/><rect x="54" color="#c4f0b0"/><rect x="55" color="#88c0d4"/><rect x="56" color="#68a0c8"/><rect x="57" color="#70e0a8"/><rect x="58" color="#e478c8"/><rect x="59" color="#9c9e9c"/><rect x="60" color="#c4e0a0"/><rect x="61" color="#e4c0a0"/><rect x="62" color="#b09480"/><rect x="63" color="#ec80f8"/><rect x="64" color="#c0b8ec"/><rect x="65" color="#dc70b4"/><rect x="66" color="#f0f888"/><rect x="67" color="#98b0ec"/><rect x="68" color="#f0c8ec"/><rect x="69" color="#88b4d8"/><rect x="70" color="#c0c880"/><rect x="71" color="#e4b8d0"/><rect x="72" color="#98e068"/><rect x="73" color="#90d8f8"/><rect x="74" color="#e0b888"/><rect x="75" color="#e0a8e4"/><rect x="76" color="#d4d87c"/><rect x="77" color="#e4a8ac"/><rect x="78" color="#90dc8c"/><rect x="79" color="#c898a4"/><rect x="80" color="#a8e0b0"/><rect x="81" color="#90c478"/><rect x="82" color="#7c6ca8"/><rect x="83" color="#c88880"/><rect x="84" color="#ec90d4"/><rect x="85" color="#a0b484"/><rect x="86" color="#b48cd0"/><rect x="87" color="#90e088"/><rect x="88" color="#dcb8c8"/><rect x="89" color="#d4f4d0"/><rect x="90" color="#749c74"/><rect x="91" color="#78aca8"/><rect x="92" color="#f0dc98"/><rect x="93" color="#e47898"/><rect x="94" color="#d07480"/><rect x="95" color="#a0a0a0"/><rect x="96" color="#bc78f0"/><rect x="97" color="#98a4d0"/><rect x="98" color="#eca898"/><rect x="99" color="#8c90cc"/><rect x="100" color="#aca098"/><rect x="101" color="#84e8cc"/></g>
<g id="r45" transform="translate(0,45)"><rect x="0" color="#f4948e"/><rect x="1" color="#e4e8d6"/><rect x="2" color="#c0bcd8"/><rect x="3" color="#7b6cb8"/><rect x="4" color="#c8e47a"/><rect x="5" color="#ecac94"/><rect x="6" color="#86a4f4"/><rect x="7" color="#d4f4e4"/><rect x="8" color="#fcfc7a"/><rect x="9" color="#6aa8a8"/><rect x="10" color="#b8c4e4"/><rect x="11" color="#98b8d8"/><rect x="12" color="#a8f0e4"/><rect x="13" color="#7cc87c"/><rect x="14" color="#fee49a"/><rect x="15" color="#fc80c4"/><rect x="16" color="#80987e"/><rect x="17" color="#f2ee78"/><rect x="18" color="#f4d488"/><rect x="19" color="#b09294"/><rect x="20" color="#a4c09c"/><rect x="21" color="#b496c8"/><rect x="22" color="#b496c4"/><rect x="23" color="#a070d4"/><rect x="24" color="#d4c898"/><rect x="25" color="#74b474"/><rect x="26" color="#68b4d8"/><rect x="27" color="#bcc0be"/><rect x="28" color="#f0c4bc"/><rect x="29" color="#aab498"/><rect x="30" color="#b0d0a8"/><rect x="31" color="#9898dc"/><rect x="32" color="#d8609c"/><rect x="33" color="#c4c4c4"/><rect x="34" color="#98d0dc"/><rect x="35" color="#a884c4"/><rect x="36" color="#a88c6c"/><rect x="37" color="#f2b4a0"/><rect x="38" color="#f0e888"/><rect x="39" color="#eef8b0"/><rect x="40" color="#ae9474"/><rect x="41" color="#dc8080"/><rect x="42" color="#ec98a4"/><rect x="43" color="#d8f4ec"/><rect x="44" color="#c498cc"/><rect x="45" color="#d8e4dc"/><rect x="46" color="#b0eeb0"/><rect x="47" color="#f0aaf8"/><rect x="48" color="#d0d0e0"/><rect x="49" color="#78e4d8"/><rect x="50" color="#e068f4"/><rect x="51" color="#9c6c80"/><rect x="52" color="#88d880"/><rect x="53" color="#98d0b8"/><rect x="54" color="#bcdc9c"/><rect x="55" color="#f87890"/><rect x="56" color="#dcb8dc"/><rect x="57" color="#a0e4d8"/><rect x="58" color="#98a4a4"/><rect x="59" color="#c8fc60"/><rect x="60" color="#a8dc88"/><rect x="61" color="#f4a040"/><rect x="62" color="#e8e0f4"/><rect x="63" color="#a0c8f8"/><rect x="64" color="#d0fcb8"/><rect x="65" color="#9090e8"/><rect x="66" color="#a8c4a0"/><rect x="67" color="#8080b0"/><rect x="68" color="#70e0b8"/><rect x="69" color="#90f4e8"/><rect x="70" color="#60f448"/><rect x="71" color="#d07898"/><rect x="72" color="#e8d8d0"/><rect x="73" color="#98c0a0"/><rect x="74" color="#70608c"/><rect x="75" color="#d8bce0"/><rect x="76" color="#98c488"/><rect x="77" color="#b49ca4"/><rect x="78" color="#80d8ec"/><rect x="79" color="#7080a8"/><rect x="80" color="#e46878"/><rect x="81" color="#f4cca0"/><rect x="82" color="#808888"/><rect x="83" color="#fcb060"/><rect x="84" color="#6488d8"/><rect x="85" color="#aab0e0"/><rect x="86" color="#68f498"/><rect x="87" color="#a0b0e0"/><rect x="88" color="#7cfc7c"/><rect x="89" color="#bcb0d4"/><rect x="90" color="#7ce8f4"/><rect x="91" color="#a478d0"/><rect x="92" color="#90f4d0"/><rect x="93" color="#70cc90"/><rect x="94" color="#d4f898"/><rect x="95" color="#9c6c8c"/></g>
</g>
<g id="axes">
<rect x="234" y="62.3" width="5153.7" height="915" fill="none" stroke="#000" stroke-width="2.1"/>
<path class="tk" d="M224.7 72.3h9.3m-9.3 19.89h9.3m-9.3 19.89h9.3m-9.3 19.89h9.3m-9.3 19.89h9.3m-9.3 19.89h9.3m-9.3 19.89h9.3m-9.3 19.89h9.3m-9.3 19.89h9.3m-9.3 19.89h9.3m-9.3 19.89h9.3m-9.3 19.89h9.3m-9.3 19.89h9.3m-9.3 19.89h9.3m-9.3 19.89h9.3m-9.3 19.89h9.3m-9.3 19.89h9.3m-9.3 19.89h9.3m-9.3 19.89h9.3m-9.3 19.89h9.3m-9.3 19.89h9.3m-9.3 19.89h9.3m-9.3 19.89h9.3m-9.3 19.89h9.3m-9.3 19.89h9.3m-9.3 19.89h9.3m-9.3 19.89h9.3m-9.3 19.89h9.3m-9.3 19.89h9.3m-9.3 19.89h9.3m-9.3 19.89h9.3m-9.3 19.89h9.3m-9.3 19.89h9.3m-9.3 19.89h9.3m-9.3 19.89h9.3m-9.3 19.89h9.3m-9.3 19.89h9.3m-9.3 19.89h9.3m-9.3 19.89h9.3m-9.3 19.89h9.3m-9.3 19.89h9.3m-9.3 19.89h9.3m-9.3 19.89h9.3m-9.3 19.89h9.3m-9.3 19.89h9.3m-9.3 19.89h9.3"/>
<path class="tk" d="M234 977.3v9.3M1085.8 977.3v9.3M1937.7 977.3v9.3M2789.5 977.3v9.3M3641.4 977.3v9.3M4493.2 977.3v9.3M5345 977.3v9.3"/>
</g>
<g id="ylabels" class="yl">
<text x="215" y="83.3">MM0</text><text x="215" y="103.2">MM0</text><text x="215" y="123.1">MM0</text><text x="215" y="143">MM0</text><text x="215" y="162.9">MM0</text><text x="215" y="182.8">MM0</text><text x="215" y="202.6">MM0</text><text x="215" y="222.5">MM0</text>
<text x="215" y="242.4">MM1</text><text x="215" y="262.3">MM1</text><text x="215" y="282.2">MM1</text><text x="215" y="302.1">MM1</text><text x="215" y="322">MM1</text><text x="215" y="341.9">MM1</text><text x="215" y="361.8">MM1</text><text x="215" y="381.7">MM1</text>
<text x="215" y="401.5">MM_in0</text><text x="215" y="421.4">MM_in1</text><text x="215" y="441.3">MAS_in0</text><text x="215" y="461.2">MAS_in1</text><text x="215" y="481.1">MAS_in2</text><text x="215" y="501">MAS_in3</text><text x="215" y="520.9">CSEL</text>
<text x="215" y="540.8">MAS0</text><text x="215" y="560.7">MAS0</text><text x="215" y="580.6">MAS1</text><text x="215" y="600.4">MAS1</text><text x="215" y="620.3">MAS2</text><text x="215" y="640.2">MAS2</text><text x="215" y="660.1">MAS3</text><text x="215" y="680">MAS3</text>
<text x="215" y="699.9">MM_MEM0</text><text x="215" y="719.8">MM_MEM1</text><text x="215" y="739.7">MM_MEM2</text><text x="215" y="759.6">MM_MEM3</text>
<text x="215" y="779.5">MAS_MEM0</text><text x="215" y="799.3">MAS_MEM1</text><text x="215" y="819.2">MAS_MEM2</text><text x="215" y="839.1">MAS_MEM3</text><text x="215" y="859">MAS_MEM4</text><text x="215" y="878.9">MAS_MEM5</text><text x="215" y="898.8">MAS_MEM6</text><text x="215" y="918.7">MAS_MEM7</text>
<text x="215" y="938.6">MAIN_MEM_w</text><text x="215" y="958.5">MAIN_MEM_r0</text><text x="215" y="978.4">MAIN_MEM_r1</text>
</g>
<g id="xlabels" class="xl">
<text x="234" y="1016">0</text><text x="1085.8" y="1016">20</text><text x="1937.7" y="1016">40</text><text x="2789.5" y="1016">60</text><text x="3641.4" y="1016">80</text><text x="4493.2" y="1016">100</text><text x="5345" y="1016">120</text>
</g>
</svg>
